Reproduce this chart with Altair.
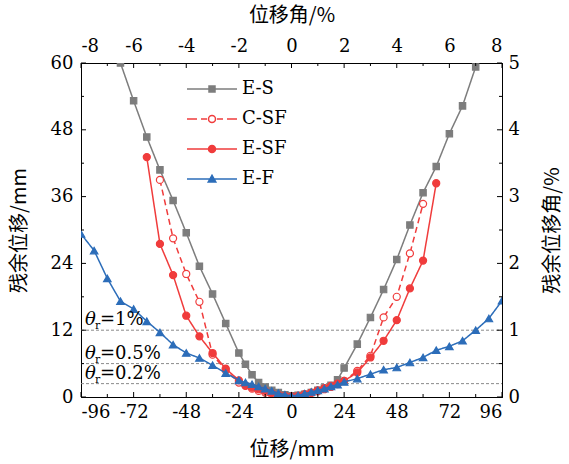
import altair as alt
import pandas as pd

series_names = ["E-S", "C-SF", "E-SF", "E-F"]

es_x = [-78, -72, -66, -60, -54, -48, -42, -36, -30, -24, -21, -18, -15, -12, -9, -6, -3, 0,
        3, 6, 9, 12, 15, 18, 21, 24, 30, 36, 42, 48, 54, 60, 66, 72, 78, 84]
es_y = [60.0, 53.2, 46.7, 40.8, 35.3, 29.5, 23.5, 18.5, 13.2, 7.9, 5.9, 4.0, 2.6, 1.8, 1.2, 0.8, 0.4, 0.2,
        0.3, 0.5, 0.8, 1.2, 1.6, 2.1, 3.1, 5.2, 9.5, 14.3, 19.3, 24.7, 30.9, 36.7, 41.4, 47.3, 52.3, 59.3]

csf_x = [-60, -54, -48, -42, -36, -30, -24, -21, -18, -15, -12, -9, -6, -3, 0,
         3, 6, 9, 12, 15, 18, 21, 24, 30, 36, 42, 48, 54, 60]
csf_y = [39.0, 28.5, 22.1, 17.1, 7.6, 4.8, 2.6, 2.0, 1.5, 1.1, 0.8, 0.5, 0.3, 0.1, 0.0,
         0.2, 0.4, 0.7, 1.0, 1.4, 1.8, 2.3, 2.9, 4.7, 7.4, 14.3, 18.0, 25.8, 34.7]

esf_x = [-66, -60, -54, -48, -42, -36, -30, -24, -21, -18, -15, -12, -9, -6, -3, 0,
         3, 6, 9, 12, 15, 18, 21, 24, 30, 36, 42, 48, 54, 60, 66]
esf_y = [43.1, 27.5, 21.9, 14.6, 10.9, 7.9, 5.1, 3.0, 2.1, 1.7, 1.4, 1.1, 0.7, 0.4, 0.2, 0.1,
         0.2, 0.5, 0.8, 1.2, 1.6, 2.0, 2.4, 2.9, 4.4, 7.1, 10.1, 13.8, 19.5, 24.5, 38.4]

ef_x = [-96, -90, -84, -78, -72, -66, -60, -54, -48, -42, -36, -30, -24, -21, -18, -15, -12, -9, -6, -3, 0,
        3, 6, 9, 12, 15, 18, 21, 24, 30, 36, 42, 48, 54, 60, 66, 72, 78, 84, 90, 96]
ef_y = [29.3, 26.3, 21.3, 17.2, 15.8, 13.6, 11.6, 9.4, 7.9, 7.0, 5.7, 4.3, 3.0, 2.6, 2.3, 1.9, 1.5, 1.1, 0.7, 0.4, 0.2,
        0.3, 0.6, 0.9, 1.2, 1.5, 1.9, 2.2, 2.7, 3.3, 4.1, 4.9, 5.3, 6.2, 7.1, 8.4, 9.1, 10.1, 12.0, 14.1, 17.3]

# residual drift limits (mm) and their labels
limit_mm = [12, 6, 2.4]
limit_labels = ["=1%", "=0.5%", "=0.2%"]

# axis ticks
x_major = [-96, -72, -48, -24, 0, 24, 48, 72, 96]
x_minor = [-84, -60, -36, -12, 12, 36, 60, 84]
y_major = [0, 12, 24, 36, 48, 60]
y_minor = [6, 18, 30, 42, 54]
top_ticks = [-8, -6, -4, -2, 0, 2, 4, 6, 8]
right_ticks = [0, 1, 2, 3, 4, 5]

rows = []
for name, xs, ys in [("E-S", es_x, es_y), ("C-SF", csf_x, csf_y),
                     ("E-SF", esf_x, esf_y), ("E-F", ef_x, ef_y)]:
    for a, b in zip(xs, ys):
        rows.append({"series": name, "x": a, "y": b})
df = pd.DataFrame(rows)

W, H = 421, 334
SERIF = "DejaVu Serif"
CJK = "Noto Sans CJK SC"
FS = 18
HYPHEN = "replace(format(datum.value, 'd'), '\u2212', '-')"

GRAY, RED, BLUE = "#7d7d7d", "#f03c3c", "#2c6db9"
color_range = [GRAY, RED, RED, BLUE]
fill_range = [GRAY, "white", RED, BLUE]
dash_range = [[1, 0], [6, 4], [1, 0], [1, 0]]
shape_range = ["square", "circle", "circle", "triangle-up"]
size_range = [40, 50, 50, 56]
CIRC = "M0.35,0A0.35,0.35,0,1,1,-0.35,0A0.35,0.35,0,1,1,0.35,0Z"
legend_paths = [
    "M-2.5,0L2.5,0M-0.3,-0.3L0.3,-0.3L0.3,0.3L-0.3,0.3Z",
    "M-2.5,0L-1.5,0M-1.1,0L-0.5,0M0.5,0L1.1,0M1.5,0L2.5,0" + CIRC,
    "M-2.5,0L2.5,0" + CIRC,
    "M-2.5,0L2.5,0M-0.38,0.3L0,-0.38L0.38,0.3Z",
]

xsc = alt.Scale(domain=[-96, 96], nice=False, zero=False)
ysc = alt.Scale(domain=[0, 60], nice=False)

x_axis = alt.Axis(values=x_major, title="位移/mm", ticks=False, grid=False, labelExpr=HYPHEN,
                  labelPadding=6, titleX=W / 2, titleY=52, titleBaseline="middle",
                  titleAlign="center")
y_axis = alt.Axis(values=y_major, title="残余位移/mm", ticks=False, grid=False,
                  labelPadding=8, titleX=-62, titleY=H / 2, titleBaseline="middle",
                  titleAlign="center", titleAngle=270)

base = alt.Chart(df)

series_layers = []
for i, name in enumerate(series_names):
    sub = base.transform_filter(alt.datum.series == name)
    line = sub.mark_line(strokeWidth=1.5, color=color_range[i], strokeDash=dash_range[i], clip=True)
    if i == 0:
        line = line.encode(x=alt.X("x:Q", scale=xsc, axis=x_axis),
                           y=alt.Y("y:Q", scale=ysc, axis=y_axis))
    else:
        line = line.encode(x="x:Q", y="y:Q")
    pt = sub.mark_point(shape=shape_range[i], size=size_range[i], filled=False,
                        color=color_range[i], fill=fill_range[i], strokeWidth=1.2,
                        opacity=1, clip=True).encode(x="x:Q", y="y:Q")
    series_layers += [line, pt]

leg = dict(title=None, orient="none", legendX=120, legendY=15, symbolSize=400,
           symbolStrokeWidth=1.5, labelFont=SERIF, labelFontSize=FS, labelOffset=19,
           rowPadding=10, padding=0, symbolOpacity=1, labelColor="black")
legend_layer = base.mark_point(opacity=0, filled=False).encode(
    x="x:Q", y="y:Q",
    stroke=alt.Stroke("series:N", scale=alt.Scale(domain=series_names, range=color_range),
                      legend=alt.Legend(**leg)),
    fill=alt.Fill("series:N", scale=alt.Scale(domain=series_names, range=fill_range),
                  legend=alt.Legend(**leg)),
    shape=alt.Shape("series:N", scale=alt.Scale(domain=series_names, range=legend_paths),
                    legend=alt.Legend(**leg)),
)

ann = pd.DataFrame({"y": limit_mm, "lab": limit_labels})
ann_base = alt.Chart(ann)
limit_rules = ann_base.mark_rule(color="#8a8a8a", strokeDash=[3, 2], strokeWidth=1).encode(
    y="y:Q", x=alt.value(0), x2=alt.value(W))
theta = ann_base.mark_text(text="θ", font=SERIF, fontStyle="italic", fontSize=FS,
                           align="left", baseline="alphabetic", dx=4, dy=-5).encode(
    x=alt.datum(-96), y="y:Q")
sub_r = ann_base.mark_text(text="r", font=SERIF, fontSize=11,
                           align="left", baseline="alphabetic", dx=14, dy=-1).encode(
    x=alt.datum(-96), y="y:Q")
eq = ann_base.mark_text(font=SERIF, fontSize=FS, align="left", baseline="alphabetic",
                        dx=19, dy=-5).encode(x=alt.datum(-96), y="y:Q", text="lab:N")


def tick_rules(vals, axis, length):
    d = alt.Chart(pd.DataFrame({"v": vals})).mark_rule(color="black", strokeWidth=1)
    if axis == "bottom":
        return d.encode(x="v:Q", y=alt.value(H), y2=alt.value(H - length))
    if axis == "top":
        return d.encode(x="v:Q", y=alt.value(0), y2=alt.value(length))
    if axis == "left":
        return d.encode(y="v:Q", x=alt.value(0), x2=alt.value(length))
    return d.encode(y="v:Q", x=alt.value(W), x2=alt.value(W - length))


ticks = []
for side in ["bottom", "top"]:
    ticks.append(tick_rules(x_major, side, 5))
    ticks.append(tick_rules(x_minor, side, 3))
for side in ["left", "right"]:
    ticks.append(tick_rules(y_major, side, 5))
    ticks.append(tick_rules(y_minor, side, 3))

main = alt.layer(limit_rules, *series_layers, legend_layer, theta, sub_r, eq, *ticks)

sec_df = pd.DataFrame({"p": [-8, 8], "q": [0, 5]})
sec = alt.Chart(sec_df).mark_point(opacity=0).encode(
    x=alt.X("p:Q", scale=alt.Scale(domain=[-8, 8], nice=False, zero=False),
            axis=alt.Axis(orient="top", values=top_ticks, title="位移角/%", ticks=False,
                          grid=False, labelPadding=8, titleX=W / 2, titleY=-48, labelExpr=HYPHEN,
                          titleBaseline="middle", titleAlign="center")),
    y=alt.Y("q:Q", scale=alt.Scale(domain=[0, 5], nice=False),
            axis=alt.Axis(orient="right", values=right_ticks, title="残余位移角/%", ticks=False,
                          grid=False, labelPadding=6, titleX=50, titleY=H / 2,
                          titleBaseline="middle", titleAlign="center", titleAngle=270)),
)

chart = alt.layer(main, sec).resolve_scale(x="independent", y="independent").properties(
    width=W, height=H,
    autosize=alt.AutoSizeParams(type="none"),
    padding={"left": 81, "top": 63, "right": 67, "bottom": 67},
    background="white",
).configure_view(stroke="black", strokeWidth=1).configure_axis(
    domainColor="black", domainWidth=1, labelFont=SERIF, labelFontSize=FS, labelColor="black",
    titleFont=CJK, titleFontSize=20, titleFontWeight="normal", titleColor="black",
)

chart.save("out.html", embed_options={"renderer": "svg", "actions": False})
